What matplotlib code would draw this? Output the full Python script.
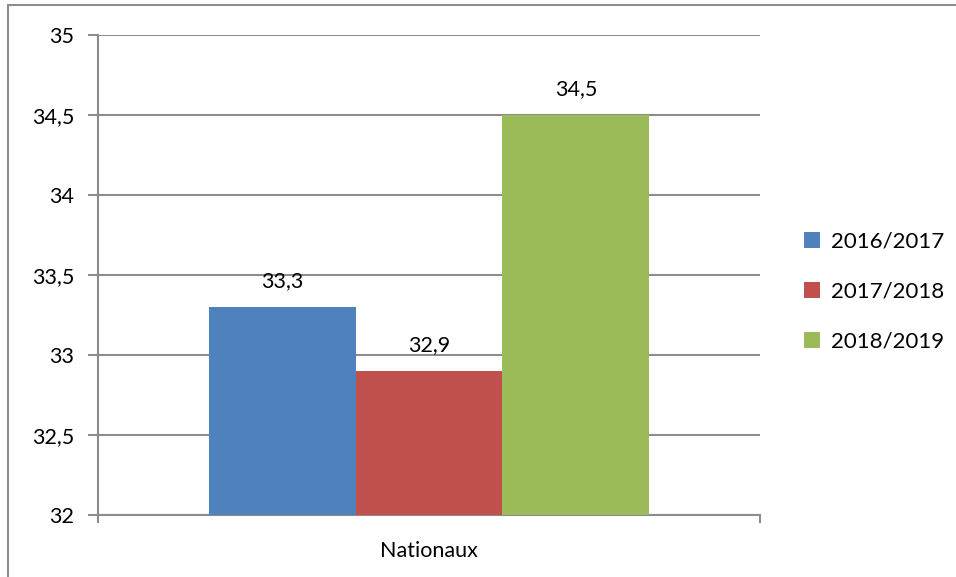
import matplotlib.pyplot as plt
from matplotlib.patches import Rectangle
from matplotlib.ticker import FuncFormatter

categories = ["Nationaux"]
series = ["2016/2017", "2017/2018", "2018/2019"]
values = [33.3, 32.9, 34.5]
colors = ["#4F81BD", "#C0504D", "#9BBB59"]

plt.rcParams['font.family'] = ['Lato', 'DejaVu Sans']

fig = plt.figure(figsize=(9.56, 5.77), dpi=100)
ax = fig.add_axes([98 / 956, 62 / 577, 662 / 956, 480 / 577])

# border round the chart area
fig.patches.append(Rectangle((8 / 956, -0.1), 1.1, (577 - 5) / 577 + 0.1,
                             transform=fig.transFigure, fill=False,
                             edgecolor="#8c8c8c", linewidth=1.5))

width = 0.222
for i, (name, v, c) in enumerate(zip(series, values, colors)):
    x = (i - 1) * width
    ax.bar(x, v - 32, width=width, bottom=32, color=c, label=name, zorder=3)
    ax.text(x, v + 0.1, f"{v:.1f}".replace(".", ","), ha="center", va="bottom",
            fontsize=15.5)

ax.set_xlim(-0.5, 0.5)
ax.set_ylim(32, 35)
ax.set_yticks([32, 32.5, 33, 33.5, 34, 34.5, 35])
ax.yaxis.set_major_formatter(FuncFormatter(lambda v, p: f"{v:g}".replace(".", ",")))
ax.grid(axis="y", color="#8c8c8c", linewidth=1.5, zorder=0)

ax.set_xticks([0])
ax.set_xticklabels(categories)
ax.set_xticks([-0.5, 0.5], minor=True)
ax.tick_params(axis="x", which="major", length=0, pad=19, labelsize=15.5)
ax.tick_params(axis="x", which="minor", length=6, width=1.5, color="#8c8c8c")
ax.tick_params(axis="y", length=7, width=1.5, color="#8c8c8c", pad=10, labelsize=15.5)

for s in ["top", "right"]:
    ax.spines[s].set_visible(False)
for s in ["left", "bottom"]:
    ax.spines[s].set_color("#8c8c8c")
    ax.spines[s].set_linewidth(1.5)

ax.legend(loc="center left", bbox_to_anchor=(1.037, 0.465), frameon=False,
          fontsize=16, handlelength=0.7, handleheight=0.7, handletextpad=0.5,
          labelspacing=1.35)

fig.savefig("out.png", dpi=100)
